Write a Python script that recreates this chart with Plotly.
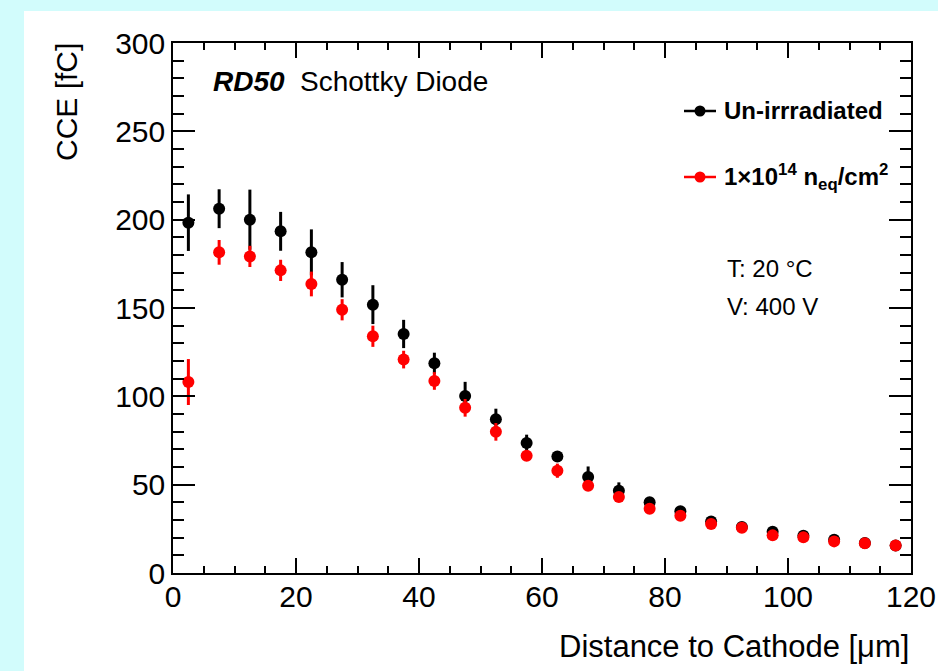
import plotly.graph_objects as go

# ---- data ----
distance_um = [2.5, 7.5, 12.5, 17.5, 22.5, 27.5, 32.5, 37.5, 42.5, 47.5, 52.5, 57.5,
               62.5, 67.5, 72.5, 77.5, 82.5, 87.5, 92.5, 97.5, 102.5, 107.5, 112.5, 117.5]
cce_unirr = [198.3, 206.2, 200.0, 193.4, 181.5, 166.0, 151.9, 135.3, 118.7, 100.2, 87.0, 73.6,
             66.0, 54.3, 46.6, 40.0, 34.9, 29.2, 26.0, 23.4, 21.1, 18.8, 17.0, 15.5]
err_unirr = [16, 11, 17, 11, 13, 10, 11, 8, 6, 8, 6, 4.7,
             2, 6, 4.7, 2.5, 2, 1.5, 1.5, 1.5, 1.2, 1, 1, 1]
cce_irr = [108.1, 181.5, 179.2, 171.3, 163.6, 149.0, 134.0, 120.8, 108.7, 93.5, 79.9, 66.4,
           57.9, 49.4, 43.0, 36.4, 32.4, 27.7, 25.6, 21.3, 20.2, 17.9, 16.8, 15.6]
err_irr = [13, 7, 6, 6, 7, 6, 6, 5, 5, 5, 5, 3,
           4, 2.5, 2, 2, 1.5, 1.5, 1.2, 1.2, 1, 1, 1, 1]

series_names = ["Un-irrradiated", "1×10<sup>14</sup> n<sub>eq</sub>/cm<sup>2</sup>"]
series_colors = ["#000000", "#ff0000"]
x_ticks = [0, 20, 40, 60, 80, 100, 120]
y_ticks = [0, 50, 100, 150, 200, 250, 300]

# ---- layout geometry (pixels) ----
W, H = 938, 671
L, R, T, B = 173, 911, 43, 573
pw, ph = R - L, B - T


def px(xp):
    return (xp - L) / pw


def py(yp):
    return (B - yp) / ph


FONT = "Liberation Sans, Arial, Helvetica, sans-serif"

fig = go.Figure()
for yv, ev, col, nm in [(cce_unirr, err_unirr, series_colors[0], series_names[0]),
                        (cce_irr, err_irr, series_colors[1], series_names[1])]:
    fig.add_trace(go.Scatter(
        x=distance_um, y=yv, mode="markers", name=nm,
        marker=dict(color=col, size=12, line=dict(width=0)),
        error_y=dict(type="data", array=ev, visible=True, color=col, thickness=3, width=0),
        showlegend=False,
    ))

axis_common = dict(
    showgrid=False, zeroline=False, showline=True, linecolor="#000000", linewidth=1.5,
    mirror="ticks", ticks="inside", tickcolor="#000000", tickwidth=1.5, automargin=False,
    tickfont=dict(family=FONT, size=30, color="#000000"),
)
fig.update_xaxes(range=[0, 120], tickvals=x_ticks, ticklen=15,
                 minor=dict(dtick=5, ticklen=7.5, ticks="inside", tickcolor="#000000", tickwidth=1.5),
                 ticklabelstandoff=-4, **axis_common)
fig.update_yaxes(range=[0, 300], tickvals=y_ticks, ticklen=22,
                 minor=dict(dtick=10, ticklen=11, ticks="inside", tickcolor="#000000", tickwidth=1.5),
                 ticklabelstandoff=0, **axis_common)

shapes = [
    # white pad
    dict(type="rect", xref="paper", yref="paper", x0=px(24), x1=px(W + 5), y0=py(11), y1=py(H + 5),
         fillcolor="#ffffff", line=dict(width=0), layer="below"),
]
annotations = [
    dict(text="Distance to Cathode [μm]", xref="paper", yref="paper", x=px(911), y=py(646),
         xanchor="right", yanchor="middle", showarrow=False,
         font=dict(family=FONT, size=31, color="#000000")),
    dict(text="CCE [fC]", xref="paper", yref="paper", x=px(66), y=py(41), textangle=-90,
         xanchor="center", yanchor="top", showarrow=False,
         font=dict(family=FONT, size=30, color="#000000")),
    dict(text="<b><i>RD50</i></b>", xref="paper", yref="paper", x=px(211), y=py(81),
         xanchor="left", yanchor="middle", showarrow=False,
         font=dict(family=FONT, size=28, color="#000000")),
    dict(text="Schottky Diode", xref="paper", yref="paper", x=px(298), y=py(81),
         xanchor="left", yanchor="middle", showarrow=False,
         font=dict(family=FONT, size=28, color="#000000")),
    dict(text="T: 20 °C", xref="paper", yref="paper", x=px(725), y=py(268),
         xanchor="left", yanchor="middle", showarrow=False,
         font=dict(family=FONT, size=24, color="#000000")),
    dict(text="V: 400 V", xref="paper", yref="paper", x=px(725), y=py(306),
         xanchor="left", yanchor="middle", showarrow=False,
         font=dict(family=FONT, size=24, color="#000000")),
]
# manual legend
for i, (nm, col, ly) in enumerate(zip(series_names, series_colors, [111, 177])):
    shapes.append(dict(type="line", xref="paper", yref="paper", x0=px(684), x1=px(716),
                       y0=py(ly), y1=py(ly), line=dict(color=col, width=2.5)))
    shapes.append(dict(type="circle", xref="paper", yref="paper", x0=px(694.5), x1=px(705.5),
                       y0=py(ly + 5.5), y1=py(ly - 5.5), fillcolor=col, line=dict(width=0)))
    annotations.append(dict(text="<b>" + nm + "</b>", xref="paper", yref="paper", x=px(722), y=py(ly),
                            xanchor="left", yanchor="middle", showarrow=False,
                            font=dict(family=FONT, size=24, color="#000000")))

fig.update_layout(
    width=W, height=H, margin=dict(l=L, r=W - R, t=T, b=H - B),
    paper_bgcolor="#d2fcfc", plot_bgcolor="#ffffff",
    shapes=shapes, annotations=annotations, showlegend=False,
)
fig.write_html("out.html")
